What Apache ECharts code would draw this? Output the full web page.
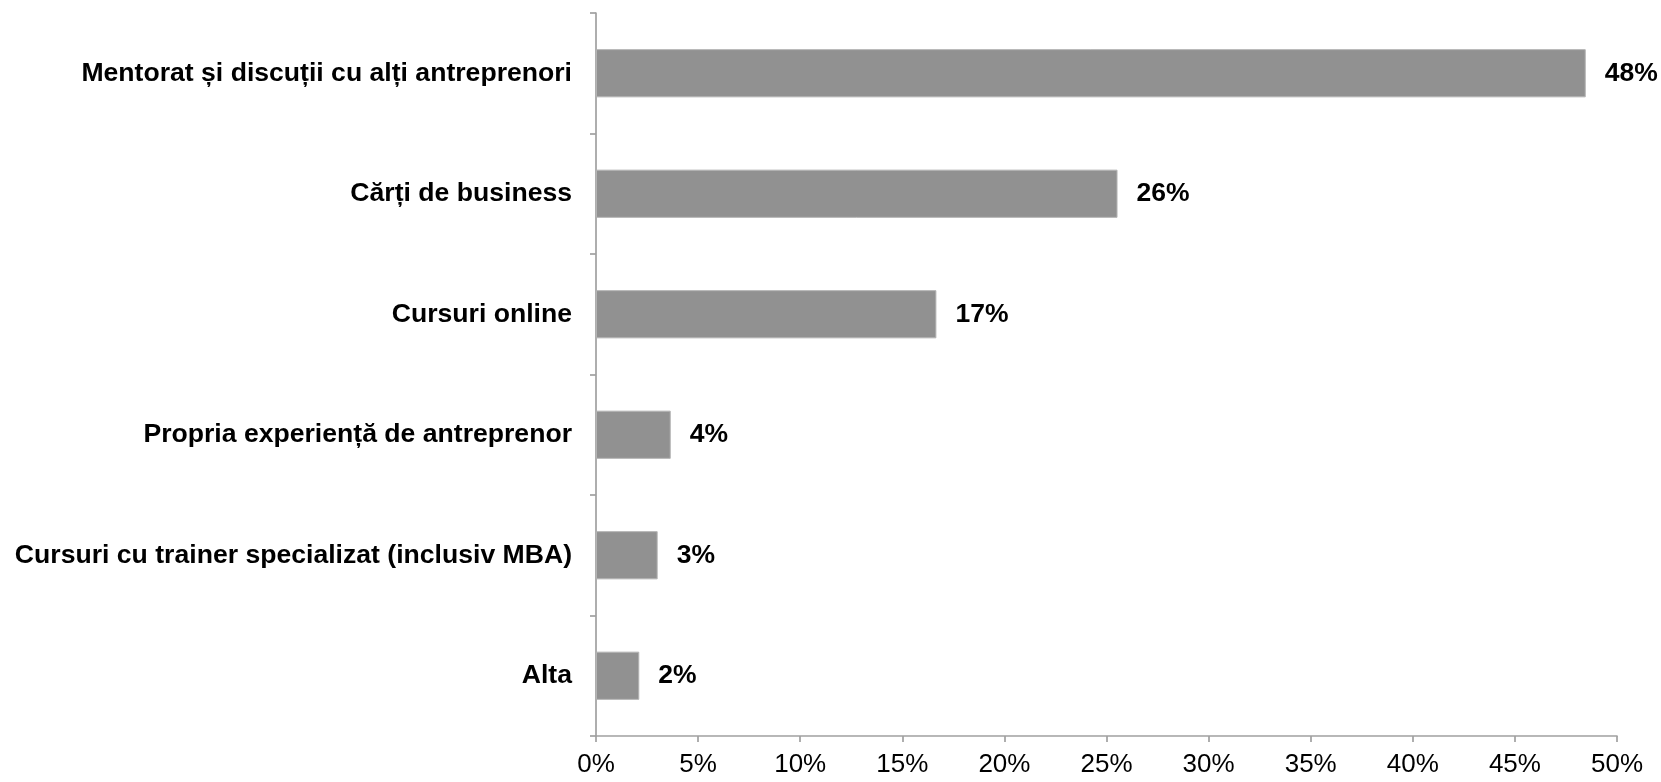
<!DOCTYPE html>
<html>
<head>
<meta charset="utf-8">
<script src="https://cdn.jsdelivr.net/npm/echarts@6/dist/echarts.min.js"></script>
<style>
  html, body { margin: 0; padding: 0; background: #ffffff; }
  #chart { width: 1661px; height: 782px; }
</style>
</head>
<body>
<div id="chart"></div>
<script>
const categories = [
  "Mentorat și discuții cu alți antreprenori",
  "Cărți de business",
  "Cursuri online",
  "Propria experiență de antreprenor",
  "Cursuri cu trainer specializat (inclusiv MBA)",
  "Alta"
];
const values = [48.47, 25.54, 16.67, 3.66, 3.02, 2.12];
const xTicks = [0, 5, 10, 15, 20, 25, 30, 35, 40, 45, 50];

const chart = echarts.init(document.getElementById('chart'), null, { renderer: 'canvas' });
const font = '"Liberation Sans", Arial, sans-serif';
chart.setOption({
  animation: false,
  backgroundColor: '#ffffff',
  grid: { left: 596, right: 44, top: 13, bottom: 46, containLabel: false, outerBoundsMode: 'none' },
  xAxis: {
    type: 'value',
    min: xTicks[0],
    max: xTicks[xTicks.length - 1],
    interval: xTicks[1] - xTicks[0],
    axisLine: { show: true, lineStyle: { color: '#a0a0a0', width: 1.7 } },
    axisTick: { show: true, length: 6, lineStyle: { color: '#a0a0a0', width: 1.7 } },
    splitLine: { show: false },
    axisLabel: {
      margin: 16,
      formatter: v => v + '%',
      color: '#000000',
      fontFamily: font,
      fontSize: 26
    }
  },
  yAxis: {
    type: 'category',
    data: categories,
    inverse: true,
    axisLine: { show: true, lineStyle: { color: '#a0a0a0', width: 1.7 } },
    axisTick: { show: true, length: 6, alignWithLabel: false, lineStyle: { color: '#a0a0a0', width: 1.7 } },
    axisLabel: {
      margin: 24,
      color: '#000000',
      fontFamily: font,
      fontSize: 26.6,
      fontWeight: 'bold'
    }
  },
  series: [{
    type: 'bar',
    data: values,
    barCategoryGap: '60%',
    itemStyle: { color: '#919191', borderColor: '#b4b4b4', borderWidth: 1 },
    label: {
      show: true,
      position: 'right',
      distance: 19,
      formatter: p => Math.round(p.value) + '%',
      color: '#000000',
      fontFamily: font,
      fontSize: 26.5,
      fontWeight: 'bold'
    }
  }]
});
</script>
</body>
</html>
